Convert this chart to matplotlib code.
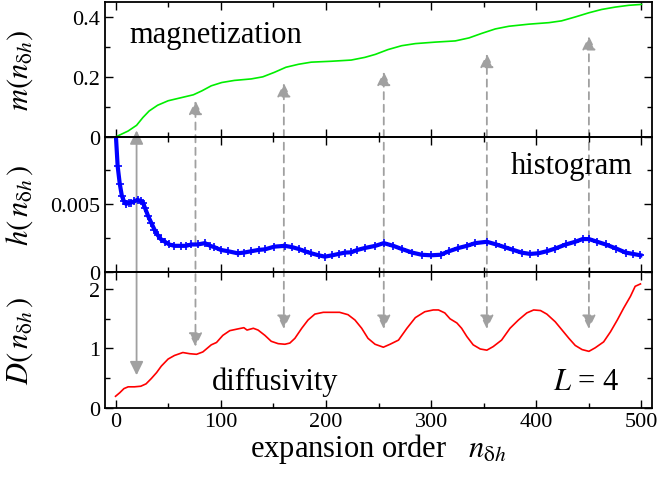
import numpy as np
import matplotlib
matplotlib.use("Agg")
import matplotlib.pyplot as plt
from matplotlib.patches import ConnectionPatch
from matplotlib.ticker import MultipleLocator

plt.rcParams['font.family'] = ['Liberation Serif', 'DejaVu Serif']
plt.rcParams['mathtext.fontset'] = 'stix'

# magnetization m(n)
n_m = [0, 12, 20, 26, 32, 40, 50, 62, 74, 82, 91, 101, 113, 129, 140, 151, 162, 174, 186,
       205, 224, 237, 247, 259, 272, 285, 304, 323, 336, 348, 361, 374, 393, 412, 424, 437,
       450, 462, 475, 488, 500]
m_val = [0.0, 0.020, 0.039, 0.065, 0.087, 0.106, 0.121, 0.131, 0.141, 0.154, 0.171, 0.182,
         0.189, 0.194, 0.201, 0.216, 0.233, 0.243, 0.250, 0.253, 0.257, 0.266, 0.276, 0.292,
         0.305, 0.312, 0.317, 0.321, 0.331, 0.346, 0.361, 0.370, 0.377, 0.382, 0.388, 0.401,
         0.415, 0.426, 0.434, 0.440, 0.443]

# histogram h(n)
n_h = [0, 2, 4, 6, 8, 10, 13, 15, 18, 21, 24, 26, 28, 31, 34, 37, 40, 43, 47, 51, 56, 62,
       67, 72, 78, 85, 90, 94, 100, 107, 116, 122, 129, 136, 142, 151, 161, 168, 174, 180,
       186, 193, 199, 206, 212, 218, 224, 230, 237, 247, 255, 264, 272, 282, 291, 300, 309,
       317, 326, 334, 342, 353, 362, 370, 378, 386, 394, 402, 410, 418, 428, 437, 444, 450,
       458, 466, 476, 485, 492, 499]
h_val = [0.0105, 0.0078, 0.0065, 0.0056, 0.0052, 0.0050, 0.0051, 0.0051, 0.0052, 0.0053,
         0.0052, 0.0051, 0.0047, 0.0041, 0.0036, 0.0031, 0.0027, 0.0024, 0.0022, 0.0020,
         0.0019, 0.0019, 0.0019, 0.0020, 0.0020, 0.0021, 0.0019, 0.0018, 0.0016, 0.0015,
         0.00135, 0.0014, 0.0015, 0.0016, 0.00164, 0.00184, 0.0019, 0.0018, 0.00167, 0.0015,
         0.00135, 0.0012, 0.0011, 0.0012, 0.0013, 0.0014, 0.00142, 0.0016, 0.00174, 0.0019,
         0.0021, 0.0019, 0.00167, 0.0014, 0.00124, 0.0012, 0.00124, 0.0015, 0.00174, 0.0019,
         0.0021, 0.0022, 0.0020, 0.0018, 0.0016, 0.0014, 0.0013, 0.00135, 0.0015, 0.0017,
         0.0020, 0.0022, 0.0024, 0.0024, 0.0022, 0.0020, 0.0017, 0.0014, 0.0013, 0.0012]

# diffusivity D(n)
n_D = [0, 4, 8, 12, 18, 24, 29, 34, 39, 43.5, 50, 56, 64, 70.5, 77, 83, 91, 96, 102, 108.6,
       116.5, 122, 125, 131, 135.5, 142, 148, 154.6, 161, 165.7, 170.5, 177, 183, 189.5,
       197.5, 205.4, 213, 221, 227.6, 234, 240, 246.7, 254.6, 261, 269, 277, 285, 294, 302,
       307, 313, 318, 324.5, 329, 334, 340, 346.7, 353, 359, 367, 375, 383, 391, 397.5, 404,
       410, 418, 424.5, 431, 437, 443.5, 450, 456, 464, 470.5, 477, 483, 489.5, 494, 499]
D_val = [0.19, 0.25, 0.32, 0.35, 0.35, 0.36, 0.40, 0.49, 0.59, 0.70, 0.82, 0.88, 0.93, 0.91,
         0.90, 0.94, 1.06, 1.10, 1.22, 1.30, 1.33, 1.35, 1.31, 1.34, 1.31, 1.22, 1.12, 1.08,
         1.07, 1.09, 1.17, 1.34, 1.48, 1.58, 1.61, 1.61, 1.61, 1.57, 1.48, 1.34, 1.17, 1.07,
         1.02, 1.07, 1.14, 1.34, 1.52, 1.62, 1.65, 1.65, 1.60, 1.50, 1.43, 1.34, 1.20, 1.06,
         0.99, 0.97, 1.03, 1.14, 1.34, 1.48, 1.60, 1.65, 1.64, 1.58, 1.45, 1.31, 1.17, 1.05,
         0.98, 0.95, 1.01, 1.11, 1.28, 1.48, 1.68, 1.88, 2.05, 2.09]

# arrows: x position, tip in D panel, tip in m panel
arrow_x = [20, 76, 160, 255, 353, 450]
arrow_D = [0.545, 1.03, 1.33, 1.33, 1.33, 1.33]
arrow_m = [0.022, 0.121, 0.180, 0.218, 0.278, 0.337]

fig = plt.figure(figsize=(6.58, 4.85), dpi=100)
L, R = 0.1596, 0.9909
ax1 = fig.add_axes([L, 0.7155, R - L, 0.9938 - 0.7155])
ax2 = fig.add_axes([L, 0.4381, R - L, 0.7155 - 0.4381])
ax3 = fig.add_axes([L, 0.1577, R - L, 0.4381 - 0.1577])

ax1.plot(n_m, m_val, color='#00ee00', lw=1.2)
ax2.plot(n_h, h_val, color='blue', lw=3, marker='+', ms=6, mew=1.2)
ax3.plot(n_D, D_val, color='red', lw=1.2)

ax1.set_ylim(0, 0.451)
ax2.set_ylim(0, 0.00995)
ax3.set_ylim(0, 2.3)
ax1.yaxis.set_major_locator(MultipleLocator(0.2))
ax1.yaxis.set_minor_locator(MultipleLocator(0.1))
ax2.yaxis.set_major_locator(MultipleLocator(0.005))
ax2.yaxis.set_minor_locator(MultipleLocator(0.0025))
ax3.yaxis.set_major_locator(MultipleLocator(1))
ax3.yaxis.set_minor_locator(MultipleLocator(0.5))

fmt = lambda v, p: '0' if abs(v) < 1e-12 else ('%g' % v)
for ax in (ax1, ax2, ax3):
    ax.set_xlim(-10, 510)
    ax.xaxis.set_major_locator(MultipleLocator(100))
    ax.xaxis.set_minor_locator(MultipleLocator(50))
    ax.yaxis.set_major_formatter(plt.FuncFormatter(fmt))
    ax.tick_params(which='both', direction='in', top=True, right=True, labelsize=16, width=1)
    ax.tick_params(which='major', length=6)
    ax.tick_params(which='minor', length=3.5)
    ax.set_facecolor('none')
    for s in ax.spines.values():
        s.set_linewidth(1.3)
    ax.yaxis.set_label_coords(-0.128, 0.5)
ax1.tick_params(labelbottom=False)
ax2.tick_params(labelbottom=False)

sub = r'n_{\mathrm{\delta}h}'
ax1.set_ylabel(r'$m(' + sub + ')$', fontsize=22)
ax2.set_ylabel(r'$h(\,' + sub + r'\,)$', fontsize=22)
ax3.set_ylabel(r'$D(\,' + sub + r'\,)$', fontsize=22)
ax3.set_xlabel(r'expansion order   $' + sub + '$', fontsize=22, labelpad=0)

ax1.text(0.045, 0.76, 'magnetization', transform=ax1.transAxes, fontsize=22, va='center')
ax2.text(0.965, 0.79, 'histogram', transform=ax2.transAxes, fontsize=22, va='center', ha='right')
ax3.text(0.195, 0.19, 'diffusivity', transform=ax3.transAxes, fontsize=22, va='center')
ax3.text(0.94, 0.19, r'$L$ = 4', transform=ax3.transAxes, fontsize=22, va='center', ha='right')

grey = '#a0a0a0'
for i, (x, d, m) in enumerate(zip(arrow_x, arrow_D, arrow_m)):
    ls = '-' if i == 0 else (0, (4, 3))
    con = ConnectionPatch(xyA=(x, d), coordsA=ax3.transData, xyB=(x, m), coordsB=ax1.transData,
                          arrowstyle='<|-|>,head_length=0.55,head_width=0.27', mutation_scale=15,
                          color=grey, lw=1.3, linestyle=ls, zorder=-1, shrinkA=0, shrinkB=0)
    fig.add_artist(con)

fig.savefig('out.png', dpi=100)
